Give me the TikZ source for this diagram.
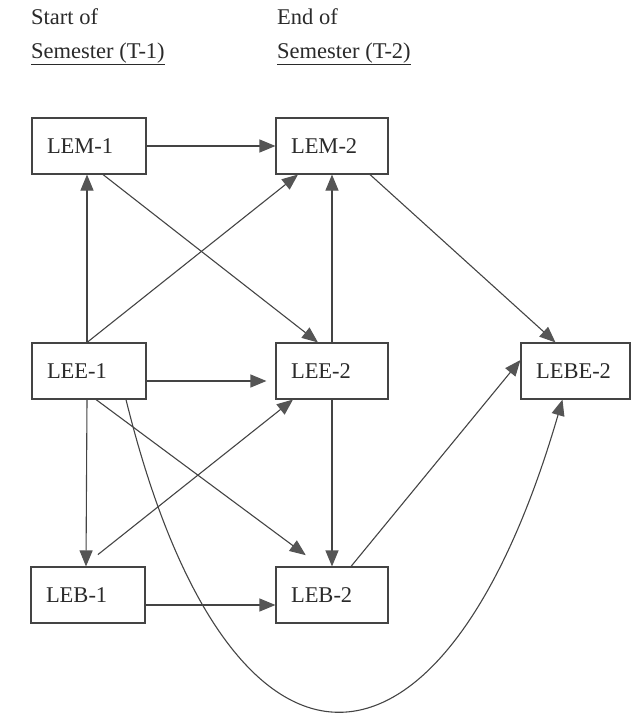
\documentclass[tikz,border=0pt]{standalone}
\usepackage{fontspec}
\setmainfont{Liberation Serif}
\usetikzlibrary{arrows.meta}
\definecolor{ink}{HTML}{2A2A2A}
\definecolor{linec}{HTML}{444444}
\definecolor{headc}{HTML}{555555}
\begin{document}
\begin{tikzpicture}[x=1pt,y=-1pt,
  every node/.style={font=\fontsize{22.5}{27}\selectfont, text=ink},
  boxnode/.style={draw=linec, line width=1.1pt, rectangle, minimum height=56pt,
    inner xsep=15pt, inner ysep=0pt, align=left, text width=#1},
  boxnode/.default=84pt,
  hdr/.style={anchor=base west, inner sep=0pt},
  link/.style={draw=linec, line width=1.1pt,
    -{Triangle[length=16pt,width=13pt,fill=headc,color=headc]}}]
\useasboundingbox (0,0) rectangle (630,715);
% headers
\node[hdr] (h1a) at (31,24) {Start of};
\node[hdr] (h1b) at (31,58) {\underline{Semester (T-1)}};
\node[hdr] (h2a) at (277,24) {End of};
\node[hdr] (h2b) at (277,58) {\underline{Semester (T-2)}};
% boxes
\node[boxnode] (LEM1) at (89,146) {LEM-1};
\node[boxnode=82pt] (LEM2) at (332,146) {LEM-2};
\node[boxnode] (LEE1) at (89,371) {LEE-1};
\node[boxnode=82pt] (LEE2) at (332,371) {LEE-2};
\node[boxnode=79pt] (LEBE2) at (575.5,371) {LEBE-2};
\node[boxnode] (LEB1) at (88,595) {LEB-1};
\node[boxnode=82pt] (LEB2) at (332,595) {LEB-2};
% connectors
\draw[link] (LEM1.east) -- (LEM2.west);
\draw[link] ([xshift=-2pt]LEE1.north) -- ([xshift=-2pt]LEM1.south);
\draw[link] ([xshift=-2pt]LEE1.north) -- ([xshift=-34pt]LEM2.south);
\draw[link] ([xshift=14pt]LEM1.south) -- ([xshift=-14pt]LEE2.north);
\draw[link] (LEE2.north) -- (LEM2.south);
\draw[link] ([xshift=38pt]LEM2.south) -- ([xshift=-20pt]LEBE2.north);
\draw[link, shorten >=9pt] ([yshift=-10pt]LEE1.east) -- ([yshift=-10pt]LEE2.west);
\draw[link] ([xshift=-2pt]LEE1.south) -- ([xshift=-2pt]LEB1.north);
\draw[link, shorten >=19pt] ([xshift=7pt]LEE1.south) -- ([xshift=-11pt]LEB2.north);
\draw[link, shorten <=19pt] ([xshift=-5pt]LEB1.north) -- ([xshift=-39pt]LEE2.south);
\draw[link] (LEE2.south) -- (LEB2.north);
\draw[link] ([xshift=19pt]LEB2.north) -- ([yshift=11pt]LEBE2.west);
\draw[link] ([yshift=-10pt]LEB1.east) -- ([yshift=-10pt]LEB2.west);
\draw[link] ([xshift=37pt]LEE1.south) .. controls (228,814) and (442,814) .. ([xshift=-13pt]LEBE2.south);
\end{tikzpicture}
\end{document}
